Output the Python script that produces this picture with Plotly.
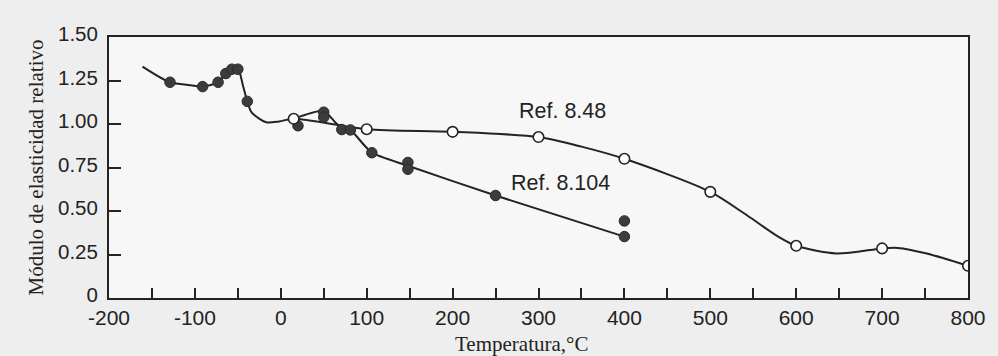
import plotly.graph_objects as go

# ---- data ----
# Ref. 8.48: open circles
ref848_t = [15, 100, 200, 300, 400, 500, 600, 700, 800]
ref848_E = [1.03, 0.97, 0.955, 0.925, 0.80, 0.61, 0.30, 0.285, 0.185]

# Hand-drawn curve that passes through the low-temperature data and Ref. 8.48
curve848_t = [-161, -129, -110, -91, -73, -64, -57, -50, -44, -39, -34, -17, -2, 15,
              100, 200, 300, 350, 400, 500, 543, 580, 600, 647, 700, 718, 752, 800]
curve848_E = [1.33, 1.24, 1.226, 1.215, 1.24, 1.29, 1.315, 1.318, 1.22, 1.13, 1.067, 1.01, 1.015, 1.03,
              0.97, 0.955, 0.925, 0.87, 0.80, 0.61, 0.474, 0.35, 0.30, 0.256, 0.285, 0.288, 0.256, 0.185]

# Ref. 8.104: filled circles
ref8104_t = [-129, -91, -73, -64, -57, -50, -39, 20, 50, 50, 71, 81, 106, 148, 148, 250, 400, 400]
ref8104_E = [1.24, 1.215, 1.24, 1.29, 1.315, 1.315, 1.13, 0.99, 1.068, 1.039, 0.968, 0.966,
             0.835, 0.779, 0.74, 0.589, 0.443, 0.353]

# Hand-drawn line of Ref. 8.104
line8104_t = [15, 50, 66, 81, 106, 148, 250, 400]
line8104_E = [1.03, 1.075, 0.997, 0.966, 0.835, 0.76, 0.589, 0.353]

x_ticks = [-200, -100, 0, 100, 200, 300, 400, 500, 600, 700, 800]
x_ticktext = ["-200", "-100", "0", "100", "200", "300", "400", "500", "600", "700", "800"]
y_ticks = [0, 0.25, 0.5, 0.75, 1.0, 1.25, 1.5]
y_ticktext = ["0", "0.25", "0.50", "0.75", "1.00", "1.25", "1.50"]

INK = "#232323"
SANS = "Liberation Sans, Arial, sans-serif"
SERIF = "Liberation Serif, Times New Roman, serif"

fig = go.Figure()
fig.add_trace(go.Scatter(x=curve848_t, y=curve848_E, mode="lines",
                         line=dict(color=INK, width=2, shape="spline", smoothing=0.8),
                         hoverinfo="skip", showlegend=False))
fig.add_trace(go.Scatter(x=line8104_t, y=line8104_E, mode="lines",
                         line=dict(color=INK, width=2, shape="spline", smoothing=0.6),
                         hoverinfo="skip", showlegend=False))
fig.add_trace(go.Scatter(x=ref8104_t, y=ref8104_E, mode="markers", name="Ref. 8.104",
                         marker=dict(size=10.5, color="#3c3c3c", line=dict(color="#2a2a2a", width=1)),
                         showlegend=False))
fig.add_trace(go.Scatter(x=ref848_t, y=ref848_E, mode="markers", name="Ref. 8.48",
                         marker=dict(size=10.5, color="#ffffff", line=dict(color=INK, width=1.6)),
                         showlegend=False))

fig.add_annotation(x=328, y=1.077, xref="x", yref="y", text="Ref. 8.48", showarrow=False,
                   font=dict(family=SANS, size=21.5, color=INK))
fig.add_annotation(x=326, y=0.663, xref="x", yref="y", text="Ref. 8.104", showarrow=False,
                   font=dict(family=SANS, size=21.5, color=INK))
fig.add_annotation(x=280, y=0, xref="x", yref="paper", yshift=-46, yanchor="middle",
                   text="Temperatura,°C", showarrow=False,
                   font=dict(family=SERIF, size=21, color=INK))
fig.add_annotation(x=0, y=0.5, xref="paper", yref="paper", xshift=-88, textangle=-90,
                   text="Módulo de elasticidad relativo", showarrow=False,
                   font=dict(family=SERIF, size=21, color=INK))

fig.update_xaxes(range=[-200, 800], tickvals=x_ticks, ticktext=x_ticktext,
                 ticks="inside", ticklen=10, tickwidth=1.5, tickcolor=INK,
                 minor=dict(dtick=50, tick0=0, ticks="inside", ticklen=10, tickwidth=1.5, tickcolor=INK),
                 showline=True, linecolor=INK, linewidth=2, mirror=True,
                 showgrid=False, zeroline=False, ticklabelstandoff=0,
                 tickfont=dict(family=SANS, size=21, color=INK))
fig.update_yaxes(range=[0, 1.5], tickvals=y_ticks, ticktext=y_ticktext,
                 ticks="inside", ticklen=12, tickwidth=1.5, tickcolor=INK,
                 showline=True, linecolor=INK, linewidth=2, mirror=True,
                 showgrid=False, zeroline=False, ticklabelstandoff=5, ticklabelshift=-3,
                 tickfont=dict(family=SANS, size=20.5, color=INK))

fig.update_layout(width=998, height=356,
                  margin=dict(l=109, r=26, t=37, b=58),
                  paper_bgcolor="#eeeeee", plot_bgcolor="#f7f7f7",
                  showlegend=False)

fig.write_html("out.html")
